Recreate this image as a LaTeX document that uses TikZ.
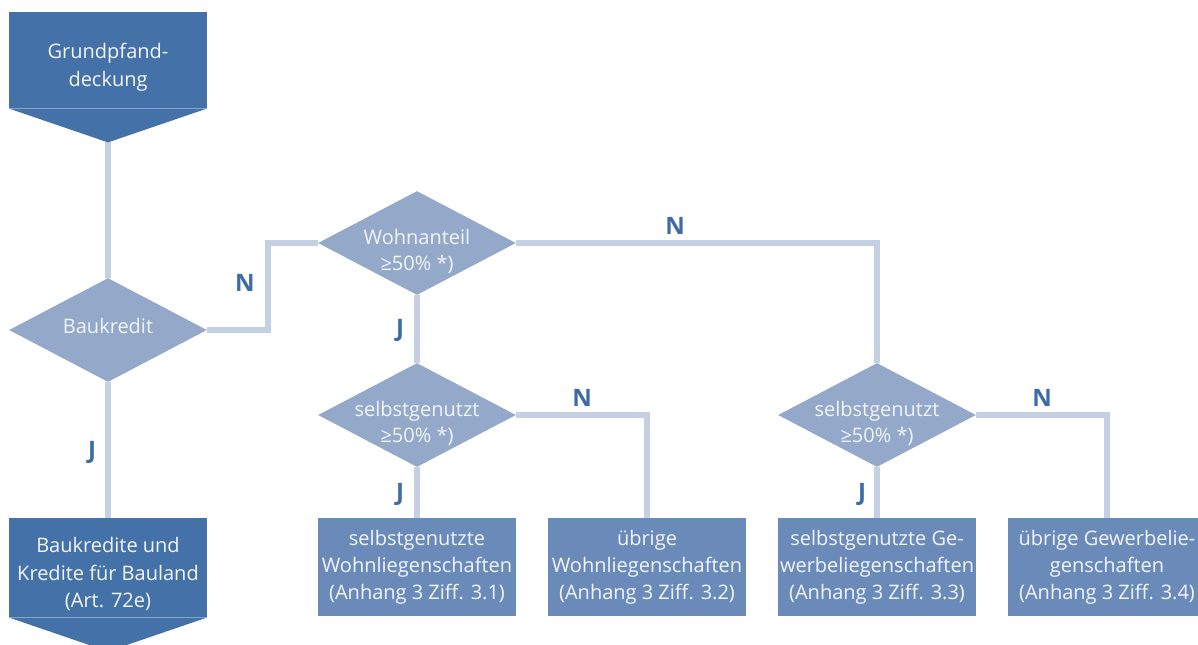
\documentclass[tikz,border=0pt]{standalone}
\usepackage{fontspec}
\setmainfont{Open Sans}
\usetikzlibrary{shapes.geometric,backgrounds}
\definecolor{grundblau}{HTML}{4472A8}
\definecolor{rautenblau}{HTML}{94A8CA}
\definecolor{boxblau}{HTML}{6A8BBA}
\definecolor{linienblau}{HTML}{C6D0E3}
\definecolor{labelblau}{HTML}{3F6BA4}
\definecolor{schrift}{HTML}{F2F5FA}

\begin{document}
\begin{tikzpicture}[x=0.5pt,y=-0.5pt,
  pfeil/.style={rectangle,fill=grundblau,text=schrift,align=center,minimum width=99pt,inner sep=1pt,font=\fontsize{10}{13.75}\selectfont},
  raute/.style={diamond,fill=rautenblau,minimum width=99pt,minimum height=52pt,inner sep=0pt},
  rautentext/.style={text=schrift,align=center,font=\fontsize{10}{13}\selectfont},
  ergebnis/.style={rectangle,fill=boxblau,text=schrift,align=center,minimum width=99pt,minimum height=49pt,inner sep=1pt,font=\fontsize{10}{13.5}\selectfont},
  verb/.style={line width=3pt,draw=linienblau},
  jn/.style={text=labelblau,font=\bfseries\fontsize{12}{14}\selectfont}]
\useasboundingbox (0,0) rectangle (1198,644);

\node[pfeil,minimum height=48pt] (grund) at (108,60) {};
\fill[grundblau] (grund.south west) -- (grund.south east) -- ([yshift=-17pt]grund.south) -- cycle;
\node[pfeil,fill=none] (grundtext) at (108,67) {Grundpfand-\\deckung};
\node[pfeil,minimum height=49.5pt] (bauland) at (108,567.5) {};
\fill[grundblau] (bauland.south west) -- (bauland.south east) -- ([yshift=-17pt]bauland.south) -- cycle;
\node[pfeil,fill=none] (baulandtext) at (108,574) {Baukredite und\\Kredite für Bauland\\(Art. 72e)};

\node[raute,label={[rautentext,yshift=2pt]center:Baukredit}] (bauk) at (108,330) {};
\node[raute,label={[rautentext,yshift=-4pt]center:{Wohnanteil\\≥50\% *)}}] (wohn) at (417,243) {};
\node[raute,label={[rautentext,yshift=-4pt]center:{selbstgenutzt\\≥50\% *)}}] (selbL) at (417,415) {};
\node[raute,label={[rautentext,yshift=-4pt]center:{selbstgenutzt\\≥50\% *)}}] (selbR) at (877,415) {};

\node[ergebnis] (selbW) at (417,567) {selbstgenutzte\\Wohnliegenschaften\\(Anhang 3 Ziff. 3.1)};
\node[ergebnis] (uebrW) at (647,567) {übrige\\Wohnliegenschaften\\(Anhang 3 Ziff. 3.2)};
\node[ergebnis] (selbG) at (877,567) {selbstgenutzte Ge-\\werbeliegenschaften\\(Anhang 3 Ziff. 3.3)};
\node[ergebnis] (uebrG) at (1107,567) {übrige Gewerbelie-\\genschaften\\(Anhang 3 Ziff. 3.4)};

\begin{pgfonlayer}{background}
\draw[verb] ([yshift=-17pt]grund.south) -- (bauk.north);
\draw[verb] (bauk.south) -- (bauland.north);
\draw[verb] (bauk.east) -- (268,330) |- (wohn.west);
\draw[verb] (wohn.east) -| (selbR.north);
\draw[verb] (wohn.south) -- (selbL.north);
\draw[verb] (selbL.east) -| (uebrW.north);
\draw[verb] (selbL.south) -- (selbW.north);
\draw[verb] (selbR.east) -| (uebrG.north);
\draw[verb] (selbR.south) -- (selbG.north);
\end{pgfonlayer}

\node[jn] (nBauk) at (245,283) {N};
\node[jn] (jBauk) at (92,452) {J};
\node[jn] (nWohn) at (675,226) {N};
\node[jn] (jWohn) at (400,330) {J};
\node[jn] (nSelbL) at (582,398) {N};
\node[jn] (jSelbL) at (400,494) {J};
\node[jn] (nSelbR) at (1042,398) {N};
\node[jn] (jSelbR) at (862,494) {J};
\end{tikzpicture}
\end{document}
